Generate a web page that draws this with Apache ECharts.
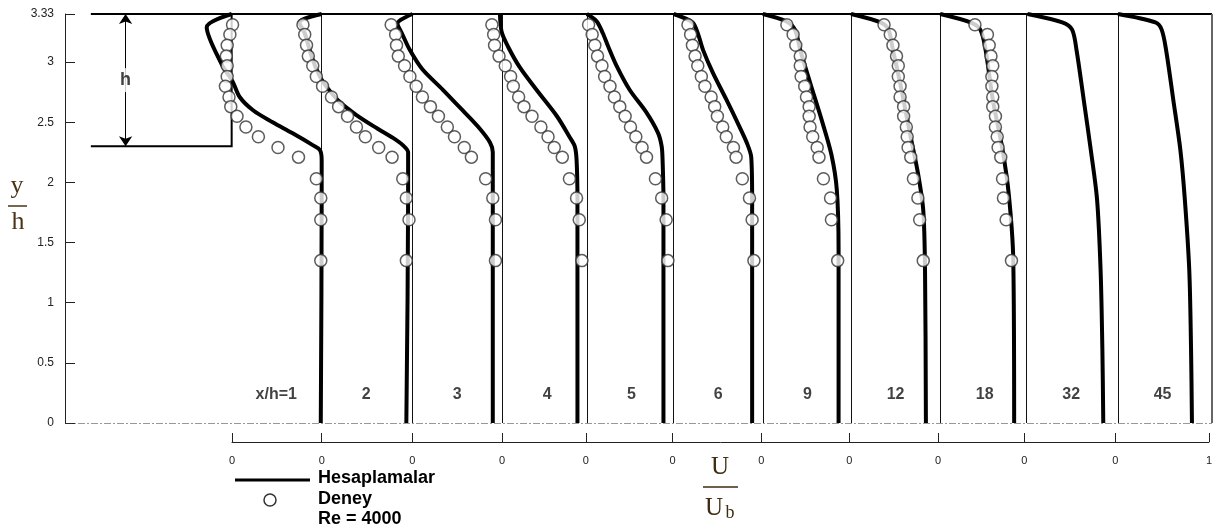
<!DOCTYPE html>
<html>
<head>
<meta charset="utf-8">
<script src="https://cdn.jsdelivr.net/npm/echarts@6/dist/echarts.min.js"></script>
<style>
  html, body { margin: 0; padding: 0; background: #fff; }
  #main { width: 1215px; height: 532px; }
</style>
</head>
<body>
<div id="main"></div>
<script>
// station origins on the shared U/Ub axis (each profile is drawn from its own zero)
var stationPos = [0, 1.01, 2.03, 3.04, 3.985, 4.96, 5.96, 6.95, 7.95, 8.92, 9.945];
var stationNames = ['x/h=1', '2', '3', '4', '5', '6', '9', '12', '18', '32', '45'];
var xTickValues = [0, 1.01, 2.03, 3.04, 3.985, 4.96, 5.96, 6.95, 7.95, 8.92, 9.945, 11];
var xTickLabels = ['0', '0', '0', '0', '0', '0', '0', '0', '0', '0', '0', '1'];
var yTickValues = [0, 0.5, 1, 1.5, 2, 2.5, 3, 3.4];
var yTickLabels = ['0', '0.5', '1', '1.5', '2', '2.5', '3', '3.33'];

// Deney (experiment): y/h levels shared by all stations, U/Ub per station
var yExp = [3.31, 3.23, 3.14, 3.05, 2.97, 2.88, 2.80, 2.71, 2.63, 2.55, 2.46, 2.38, 2.29, 2.21, 2.03, 1.87, 1.69, 1.35];
var exp1  = [0.01, -0.02, -0.05, -0.06, -0.05, -0.05, -0.07, -0.03, -0.01, 0.06, 0.16, 0.30, 0.52, 0.75, 0.95, 1.00, 1.00, 1.00];
var exp2  = [-0.21, -0.19, -0.17, -0.15, -0.10, -0.06, 0.01, 0.11, 0.19, 0.29, 0.39, 0.49, 0.64, 0.79, 0.91, 0.95, 0.98, 0.95];
var exp3  = [-0.24, -0.19, -0.18, -0.16, -0.09, -0.03, 0.04, 0.11, 0.20, 0.29, 0.39, 0.47, 0.58, 0.66, 0.82, 0.90, 0.93, 0.93];
var exp4  = [-0.12, -0.10, -0.09, -0.04, 0.03, 0.09, 0.12, 0.18, 0.24, 0.33, 0.43, 0.51, 0.58, 0.67, 0.75, 0.83, 0.86, 0.89];
var exp5  = [0.02, 0.06, 0.09, 0.12, 0.17, 0.20, 0.26, 0.31, 0.37, 0.43, 0.49, 0.55, 0.62, 0.67, 0.77, 0.84, 0.89, 0.91];
var exp6  = [0.16, 0.19, 0.21, 0.24, 0.27, 0.31, 0.35, 0.42, 0.46, 0.49, 0.55, 0.59, 0.67, 0.70, 0.77, 0.85, 0.88, 0.90];
var exp9  = [0.27, 0.34, 0.37, 0.42, 0.42, 0.43, 0.47, 0.49, 0.52, 0.52, 0.53, 0.56, 0.61, 0.63, 0.68, 0.76, 0.77, 0.84];
var exp12 = [0.37, 0.44, 0.47, 0.51, 0.53, 0.53, 0.55, 0.55, 0.59, 0.59, 0.62, 0.63, 0.64, 0.67, 0.70, 0.75, 0.77, 0.81];
var exp18 = [0.39, 0.53, 0.55, 0.57, 0.59, 0.58, 0.58, 0.59, 0.59, 0.62, 0.62, 0.64, 0.65, 0.68, 0.70, 0.71, 0.74, 0.80];
var expAll = [exp1, exp2, exp3, exp4, exp5, exp6, exp9, exp12, exp18];

// Hesaplamalar (computation): [U/Ub, y/h] per station
var calc1  = [[0, 3.40], [-0.28, 3.29], [-0.11, 2.98], [0.01, 2.84], [0.09, 2.71], [0.24, 2.60], [0.46, 2.50], [0.68, 2.41], [0.91, 2.31], [0.99, 2.27], [1.01, 2.19], [1.01, 1.86], [1.00, 0]];
var calc2  = [[0, 3.40], [-0.25, 3.33], [-0.19, 3.24], [-0.11, 3.04], [-0.02, 2.88], [0.06, 2.79], [0.20, 2.67], [0.39, 2.56], [0.62, 2.45], [0.80, 2.37], [0.91, 2.31], [0.97, 2.25], [0.97, 1.86], [0.95, 0]];
var calc3  = [[0, 3.40], [-0.17, 3.32], [-0.12, 3.24], [-0.03, 3.10], [0.11, 2.94], [0.34, 2.77], [0.56, 2.60], [0.75, 2.45], [0.87, 2.33], [0.90, 2.25], [0.90, 1.86], [0.90, 0]];
var calc4  = [[-0.03, 3.40], [-0.01, 3.25], [0.06, 3.13], [0.19, 2.96], [0.38, 2.77], [0.61, 2.55], [0.75, 2.38], [0.81, 2.30], [0.83, 2.19], [0.84, 1.86], [0.84, 0]];
var calc5  = [[0, 3.40], [0.11, 3.34], [0.18, 3.24], [0.24, 3.13], [0.34, 2.96], [0.48, 2.77], [0.67, 2.58], [0.80, 2.41], [0.84, 2.30], [0.85, 2.19], [0.86, 1.86], [0.86, 0]];
var calc6  = [[0, 3.40], [0.21, 3.33], [0.27, 3.24], [0.33, 3.10], [0.44, 2.91], [0.59, 2.69], [0.74, 2.46], [0.82, 2.33], [0.87, 2.21], [0.88, 1.86], [0.88, 0]];
var calc9  = [[0, 3.40], [0.26, 3.34], [0.36, 3.27], [0.42, 3.10], [0.53, 2.83], [0.66, 2.52], [0.77, 2.23], [0.83, 1.94], [0.85, 1.44], [0.85, 0]];
var calc12 = [[0, 3.40], [0.33, 3.33], [0.42, 3.27], [0.47, 3.10], [0.55, 2.83], [0.66, 2.41], [0.75, 2.08], [0.81, 1.77], [0.83, 1.27], [0.84, 0]];
var calc18 = [[0, 3.40], [0.34, 3.33], [0.45, 3.27], [0.51, 3.10], [0.59, 2.69], [0.70, 2.27], [0.77, 1.90], [0.82, 1.36], [0.83, 0]];
var calc32 = [[0.01, 3.40], [0.40, 3.33], [0.51, 3.27], [0.56, 3.10], [0.64, 2.69], [0.72, 2.27], [0.79, 1.86], [0.83, 1.27], [0.85, 0.61], [0.86, 0]];
var calc45 = [[0, 3.40], [0.42, 3.33], [0.49, 3.27], [0.54, 3.10], [0.62, 2.69], [0.70, 2.27], [0.75, 1.86], [0.80, 1.27], [0.82, 0.61], [0.83, 0]];
var calcAll = [calc1, calc2, calc3, calc4, calc5, calc6, calc9, calc12, calc18, calc32, calc45];

// channel geometry (y/h)
var stepHeight = 2.3;
var channelTop = 3.4;
var wallStart = -1.58;
var xMin = -1.87;
var xMax = 11;

var myChart = echarts.init(document.getElementById('main'));

var FONT = 'Liberation Sans, Arial, sans-serif';
var SERIF = 'Liberation Serif, Times New Roman, serif';

var series = [];

// thin station lines
series.push({
    type: 'lines',
    coordinateSystem: 'cartesian2d',
    xAxisIndex: 0, yAxisIndex: 0,
    z: 1,
    lineStyle: { color: '#111', width: 1, opacity: 1 },
    data: stationPos.slice(1).map(function (x) {
        return { coords: [[x, 0], [x, channelTop]] };
    })
});
// step + top wall
series.push({
    type: 'lines',
    coordinateSystem: 'cartesian2d',
    polyline: true,
    z: 1,
    lineStyle: { color: '#000', width: 2, opacity: 1 },
    data: [
        { coords: [[wallStart, stepHeight], [0, stepHeight], [0, channelTop]] },
        { coords: [[wallStart, channelTop], [xMax, channelTop]] }
    ]
});
// right border
series.push({
    type: 'lines',
    coordinateSystem: 'cartesian2d',
    z: 1,
    lineStyle: { color: '#666', width: 2, opacity: 1 },
    data: [{ coords: [[xMax, 0], [xMax, channelTop]] }]
});
// dash-dot centre line at y = 0
series.push({
    type: 'lines',
    coordinateSystem: 'cartesian2d',
    z: 1,
    lineStyle: { color: '#333', width: 1, type: [7, 2, 2, 2], opacity: 1 },
    data: [{ coords: [[xMin, 0], [xMax, 0]] }]
});
// h arrow
series.push({
    type: 'lines',
    coordinateSystem: 'cartesian2d',
    z: 1,
    symbol: ['arrow', 'arrow'],
    symbolSize: 10,
    lineStyle: { color: '#000', width: 1, opacity: 1 },
    data: [{ coords: [[-1.19, stepHeight], [-1.19, channelTop]] }]
});

// computed profiles
calcAll.forEach(function (arr, i) {
    series.push({
        name: 'Hesaplamalar',
        type: 'line',
        z: 3,
        smooth: 0.3,
        showSymbol: false,
        silent: true,
        lineStyle: { color: '#000', width: 4 },
        data: arr.map(function (p) { return [stationPos[i] + p[0], p[1]]; })
    });
});

// experimental points
expAll.forEach(function (arr, i) {
    series.push({
        name: 'Deney',
        type: 'scatter',
        z: 4,
        symbol: 'circle',
        symbolSize: 12,
        itemStyle: { color: '#fff', borderColor: '#333', borderWidth: 1.5 },
        data: arr.map(function (u, k) { return [stationPos[i] + u, yExp[k]]; })
    });
});

// station labels and h
series.push({
    type: 'scatter',
    z: 5,
    symbolSize: 0,
    silent: true,
    label: {
        show: true, position: 'inside', formatter: '{b}',
        fontFamily: FONT, fontWeight: 'bold', fontSize: 16, color: '#111'
    },
    data: stationNames.map(function (n, i) {
        return { name: n, value: [stationPos[i] + 0.5, 0.235] };
    }).concat([{
        name: 'h', value: [-1.19, 2.85],
        label: { fontSize: 18, backgroundColor: '#fff', padding: [3, 2] }
    }])
});

var option = {
    animation: false,
    backgroundColor: '#fff',
    grid: [
        { left: 65, top: 14, width: 1147, height: 409 },
        { left: 232, top: 441, width: 980, height: 1 }
    ],
    xAxis: [
        { type: 'value', gridIndex: 0, min: xMin, max: xMax, show: false },
        {
            type: 'value', gridIndex: 1, min: 0, max: 11, position: 'bottom',
            axisLine: { show: true, onZero: false, lineStyle: { color: '#222', width: 1 } },
            axisTick: { show: true, inside: true, length: 9, customValues: xTickValues, lineStyle: { color: '#222' } },
            axisLabel: {
                customValues: xTickValues, margin: 13, fontSize: 11, color: '#222', fontFamily: FONT,
                formatter: function (v) {
                    var best = 0;
                    xTickValues.forEach(function (t, k) { if (Math.abs(t - v) < Math.abs(xTickValues[best] - v)) best = k; });
                    return xTickLabels[best];
                }
            },
            splitLine: { show: false }
        }
    ],
    yAxis: [
        {
            type: 'value', gridIndex: 0, min: 0, max: channelTop,
            axisLine: { show: true, onZero: false, lineStyle: { color: '#222', width: 1 } },
            axisTick: { show: true, inside: true, length: 10, customValues: yTickValues, lineStyle: { color: '#222' } },
            axisLabel: {
                customValues: yTickValues, margin: 11, fontSize: 12, color: '#222', fontFamily: FONT,
                formatter: function (v) {
                    var best = 0;
                    yTickValues.forEach(function (t, k) { if (Math.abs(t - v) < Math.abs(yTickValues[best] - v)) best = k; });
                    return yTickLabels[best];
                }
            },
            splitLine: { show: false }
        },
        { type: 'value', gridIndex: 1, show: false }
    ],
    graphic: [
        // legend
        { type: 'line', shape: { x1: 235, y1: 480, x2: 310, y2: 480 }, style: { stroke: '#000', lineWidth: 3 } },
        { type: 'circle', shape: { cx: 270, cy: 500, r: 6 }, style: { fill: '#fff', stroke: '#333', lineWidth: 1.5 } },
        { type: 'text', x: 318, y: 478, style: { text: 'Hesaplamalar', fill: '#000', font: 'bold 18px ' + FONT, verticalAlign: 'middle' } },
        { type: 'text', x: 318, y: 499, style: { text: 'Deney', fill: '#000', font: 'bold 18px ' + FONT, verticalAlign: 'middle' } },
        { type: 'text', x: 318, y: 519, style: { text: 'Re = 4000', fill: '#000', font: 'bold 18px ' + FONT, verticalAlign: 'middle' } },
        // U / Ub
        { type: 'text', x: 720, y: 467, style: { text: 'U', fill: '#3d2c12', font: '25px ' + SERIF, align: 'center', verticalAlign: 'middle' } },
        { type: 'line', shape: { x1: 703, y1: 487, x2: 738, y2: 487 }, style: { stroke: '#3d2c12', lineWidth: 1.5 } },
        { type: 'text', x: 714, y: 508, style: { text: 'U', fill: '#3d2c12', font: '25px ' + SERIF, align: 'center', verticalAlign: 'middle' } },
        { type: 'text', x: 730, y: 513, style: { text: 'b', fill: '#3d2c12', font: '18px ' + SERIF, align: 'center', verticalAlign: 'middle' } },
        // y / h
        { type: 'text', x: 17, y: 186, style: { text: 'y', fill: '#4a3418', font: '26px ' + SERIF, align: 'center', verticalAlign: 'middle' } },
        { type: 'line', shape: { x1: 8, y1: 206, x2: 27, y2: 206 }, style: { stroke: '#4a3418', lineWidth: 1.5 } },
        { type: 'text', x: 18, y: 222, style: { text: 'h', fill: '#4a3418', font: '26px ' + SERIF, align: 'center', verticalAlign: 'middle' } }
    ],
    series: series
};

myChart.setOption(option);
</script>
</body>
</html>
